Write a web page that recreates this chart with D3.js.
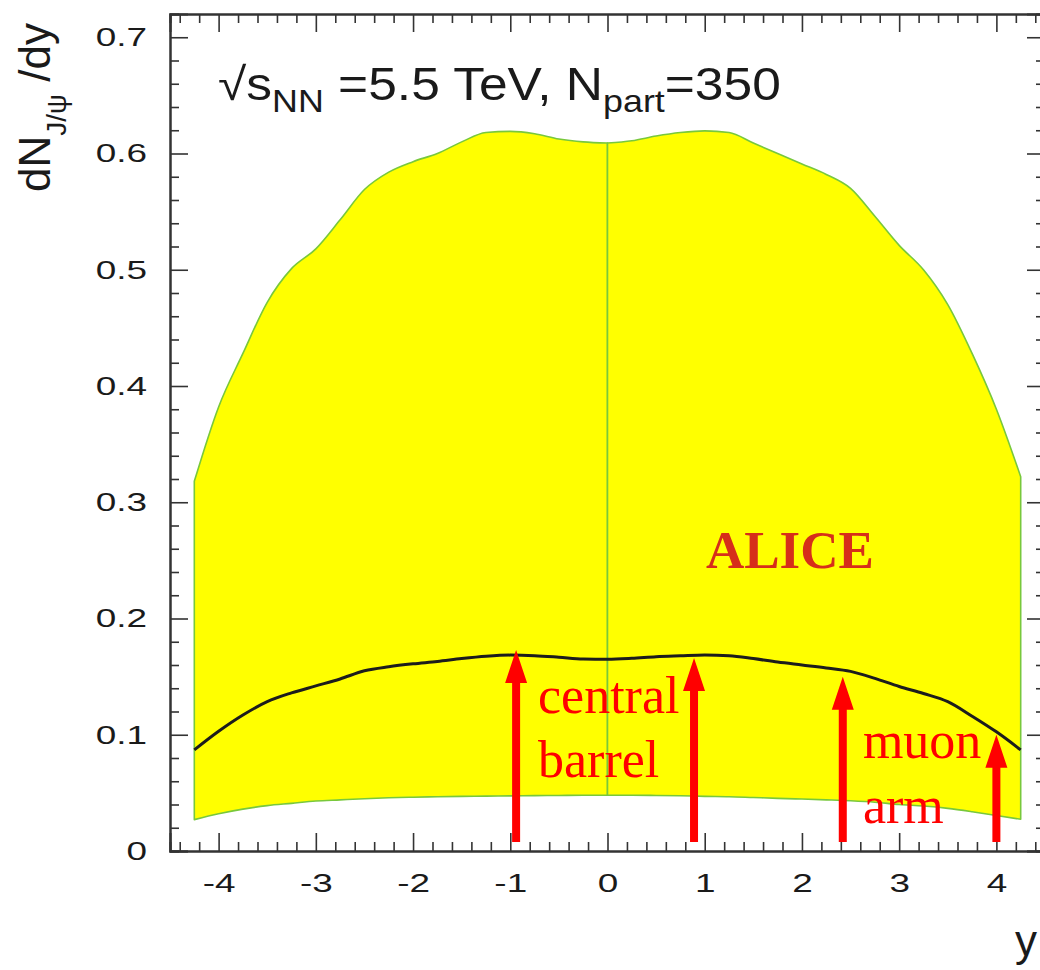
<!DOCTYPE html>
<html>
<head>
<meta charset="utf-8">
<script src="https://cdn.jsdelivr.net/npm/d3@7"></script>
<style>
  html, body { margin: 0; padding: 0; background: #fff; }
  svg { display: block; }
  .tick text { font-family: "Liberation Sans", Arial, sans-serif; font-size: 26px; fill: #1a1a1a; }
</style>
</head>
<body>
<svg id="chart" width="1040" height="970"></svg>
<script>
// Rapidity grid of the calculation
const rapidity = [-4.25, -4.0, -3.75, -3.5, -3.25, -3.0, -2.75, -2.5, -2.25, -2.0, -1.75, -1.5, -1.25, -1.0, -0.75, -0.5, -0.25, 0.0,
                  0.25, 0.5, 0.75, 1.0, 1.25, 1.5, 1.75, 2.0, 2.25, 2.5, 2.75, 3.0, 3.25, 3.5, 3.75, 4.0, 4.25];

// Upper edge of the uncertainty band
const bandUpper = [0.318, 0.382, 0.428, 0.472, 0.501, 0.518, 0.543, 0.569, 0.584, 0.593, 0.600, 0.610, 0.618, 0.619, 0.617, 0.6125, 0.610, 0.609,
                   0.611, 0.615, 0.618, 0.6195, 0.618, 0.609, 0.600, 0.591, 0.582, 0.570, 0.546, 0.521, 0.500, 0.470, 0.428, 0.380, 0.322];

// Lower edge of the uncertainty band
const bandLower = [0.027, 0.032, 0.036, 0.039, 0.041, 0.043, 0.044, 0.045, 0.0458, 0.0463, 0.0467, 0.047, 0.0472, 0.0474, 0.0476, 0.0478, 0.048, 0.048,
                   0.048, 0.0478, 0.0475, 0.047, 0.0467, 0.046, 0.0453, 0.0447, 0.044, 0.0432, 0.042, 0.040, 0.0387, 0.0367, 0.0338, 0.0305, 0.0273];

// Central value dN/dy
const central = [0.087, 0.103, 0.117, 0.1285, 0.136, 0.142, 0.148, 0.155, 0.1585, 0.161, 0.163, 0.1655, 0.1675, 0.1685, 0.168, 0.1667, 0.1652, 0.165,
                 0.1658, 0.1672, 0.168, 0.1687, 0.168, 0.1655, 0.1625, 0.160, 0.1575, 0.1545, 0.1485, 0.1415, 0.1355, 0.1285, 0.116, 0.1025, 0.087];

// Axis ticks
const xMajorTicks = [-4, -3, -2, -1, 0, 1, 2, 3, 4];
const yMajorTicks = [0, 0.1, 0.2, 0.3, 0.4, 0.5, 0.6, 0.7];

// Detector acceptance arrows: rapidity, tip and foot in dN/dy units
const arrowY = [-0.94, 0.89, 2.42, 4.0];
const arrowTip = [0.173, 0.166, 0.150, 0.100];
const arrowFoot = 0.0077;

const svg = d3.select("#chart");
const frame = { left: 170, right: 1045, top: 14, bottom: 851 };

const x = d3.scaleLinear().domain([-4.5, 4.5]).range([frame.left, frame.right]);
const y = d3.scaleLinear().domain([0, 0.72]).range([frame.bottom, frame.top]);

const xMinor = d3.range(-4.4, 4.41, 0.2).map(v => +v.toFixed(1)).filter(v => Math.abs(v - Math.round(v)) > 1e-6);
const yMinor = d3.range(0.02, 0.72, 0.02).map(v => +v.toFixed(2)).filter(v => Math.abs(v * 10 - Math.round(v * 10)) > 1e-6);

// Band, drawn as two halves meeting at y = 0
const pts = rapidity.map((r, i) => ({ r, hi: bandUpper[i], lo: bandLower[i], c: central[i] }));
const area = d3.area()
  .x(d => x(d.r))
  .y0(d => y(d.lo))
  .y1(d => y(d.hi))
  .curve(d3.curveMonotoneX);

const halves = [pts.filter(d => d.r <= 0), pts.filter(d => d.r >= 0)];
svg.append("g")
  .selectAll("path")
  .data(halves)
  .join("path")
  .attr("d", d => area(d) + "Z")
  .attr("fill", "#ffff00")
  .attr("stroke", "#78c83c")
  .attr("stroke-width", 1.6)
  .attr("stroke-linejoin", "round");

// Central curve
svg.append("path")
  .datum(pts)
  .attr("d", d3.line().x(d => x(d.r)).y(d => y(d.c)).curve(d3.curveMonotoneX))
  .attr("fill", "none")
  .attr("stroke", "#1c1c1c")
  .attr("stroke-width", 3);

// Axes: major and minor ticks on all four sides, pointing inward
const axisColor = "#333";
const labelStretch = 1.42;
function styleAxis(g) {
  g.select(".domain").attr("stroke", axisColor).attr("stroke-width", 2);
  g.selectAll(".tick line").attr("stroke", axisColor).attr("stroke-width", 1.6);
}

const fmtX = d => String(d);
const fmtY = d => (d === 0 ? "0" : d.toFixed(1));

svg.append("g").attr("transform", `translate(0,${frame.bottom})`)
  .call(d3.axisBottom(x).tickValues(xMajorTicks).tickSize(-18).tickPadding(23).tickFormat(fmtX))
  .call(styleAxis)
  .call(g => g.selectAll(".tick text").attr("fill", "#1a1a1a")
    .attr("transform", `scale(${labelStretch},1)`));
svg.append("g").attr("transform", `translate(0,${frame.bottom})`)
  .call(d3.axisBottom(x).tickValues(xMinor).tickSize(-9).tickFormat(""))
  .call(styleAxis);

svg.append("g").attr("transform", `translate(0,${frame.top})`)
  .call(d3.axisTop(x).tickValues(xMajorTicks).tickSize(-18).tickFormat(""))
  .call(styleAxis);
svg.append("g").attr("transform", `translate(0,${frame.top})`)
  .call(d3.axisTop(x).tickValues(xMinor).tickSize(-9).tickFormat(""))
  .call(styleAxis);

svg.append("g").attr("transform", `translate(${frame.left},0)`)
  .call(d3.axisLeft(y).tickValues(yMajorTicks).tickSize(-18).tickPadding(23).tickFormat(fmtY))
  .call(styleAxis)
  .call(g => g.selectAll(".tick text").attr("fill", "#1a1a1a")
    .attr("x", -23 / labelStretch)
    .attr("transform", `scale(${labelStretch},1)`));
svg.append("g").attr("transform", `translate(${frame.left},0)`)
  .call(d3.axisLeft(y).tickValues(yMinor).tickSize(-9).tickFormat(""))
  .call(styleAxis);

svg.append("g").attr("transform", `translate(${frame.right},0)`)
  .call(d3.axisRight(y).tickValues(yMajorTicks).tickSize(-18).tickFormat(""))
  .call(styleAxis);
svg.append("g").attr("transform", `translate(${frame.right},0)`)
  .call(d3.axisRight(y).tickValues(yMinor).tickSize(-9).tickFormat(""))
  .call(styleAxis);

// Acceptance arrows
const headLen = 33, headHalf = 11, shaftHalf = 4;
const arrows = arrowY.map((r, i) => ({ r, tip: arrowTip[i] }));
const ag = svg.append("g").attr("fill", "#ff0000");
ag.selectAll("path")
  .data(arrows)
  .join("path")
  .attr("d", d => {
    const cx = x(d.r), yt = y(d.tip), yb = y(arrowFoot), yh = yt + headLen;
    return `M${cx - shaftHalf},${yb} L${cx - shaftHalf},${yh} L${cx - headHalf},${yh} L${cx},${yt} ` +
           `L${cx + headHalf},${yh} L${cx + shaftHalf},${yh} L${cx + shaftHalf},${yb} Z`;
  });

// Annotation labels
const serif = "'Liberation Serif', 'Times New Roman', serif";
const sans = "'Liberation Sans', Arial, Helvetica, sans-serif";

svg.append("text")
  .attr("x", x(1.013)).attr("y", y(0.2434))
  .attr("font-family", serif).attr("font-weight", "bold").attr("font-size", 53)
  .attr("fill", "#d62e1a")
  .text("ALICE");

const redLabels = [
  { t: "central", r: -0.715, v: 0.1187 },
  { t: "barrel", r: -0.715, v: 0.0637 },
  { t: "muon", r: 2.627, v: 0.080 },
  { t: "arm", r: 2.627, v: 0.0241 }
];
svg.append("g").selectAll("text")
  .data(redLabels)
  .join("text")
  .attr("x", d => x(d.r)).attr("y", d => y(d.v))
  .attr("font-family", serif).attr("font-size", 52)
  .attr("fill", "#ff0000")
  .text(d => d.t);

// Collision system title
const title = svg.append("text")
  .attr("transform", "translate(218,100) scale(1.12,1)")
  .attr("font-family", sans).attr("font-size", 46).attr("fill", "#1a1a1a");
title.append("tspan").text("\u221As");
title.append("tspan").attr("font-size", 32).attr("dy", 12).text("NN");
title.append("tspan").attr("dy", -12).text(" =5.5 TeV, N");
title.append("tspan").attr("font-size", 32).attr("dy", 12).text("part");
title.append("tspan").attr("dy", -12).text("=350");

// Axis titles
const yTitle = svg.append("text")
  .attr("transform", "translate(50,192) rotate(-90)")
  .attr("font-family", sans).attr("font-size", 44).attr("fill", "#1a1a1a");
yTitle.append("tspan").text("dN");
yTitle.append("tspan").attr("font-size", 28).attr("dy", 16).text("J/\u03C8");
yTitle.append("tspan").attr("dy", -16).text(" /dy");

svg.append("text")
  .attr("x", 1015).attr("y", 956)
  .attr("font-family", sans).attr("font-size", 44).attr("fill", "#1a1a1a")
  .text("y");
</script>
</body>
</html>
